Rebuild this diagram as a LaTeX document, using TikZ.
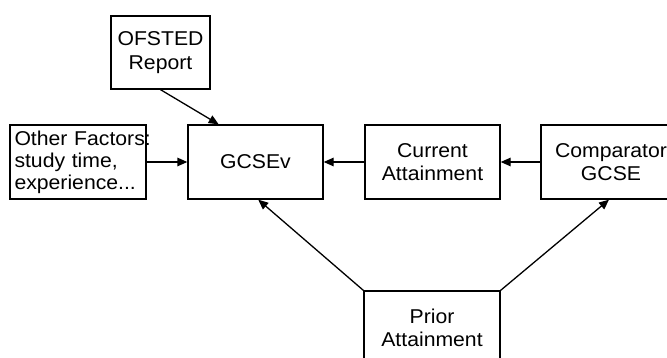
\documentclass[tikz,border=0pt]{standalone}
\usepackage{fontspec}
\setmainfont{Liberation Sans}[FakeStretch=1.06]
\usetikzlibrary{arrows.meta,calc}
\begin{document}
\begin{tikzpicture}[x=1pt,y=-1pt,
  box/.style={draw,line width=1.3pt,inner sep=0pt,align=center,
    font=\fontsize{20}{23.5}\selectfont},
  arr/.style={line width=1.3pt,-{Triangle[length=10pt,width=8.5pt]}}]
\useasboundingbox (0,0) rectangle (667,358);
\clip (0,0) rectangle (667,358);
\node[box,minimum width=99pt,minimum height=73pt] (ofsted) at (160.5,52.5) {OFSTED\\Report};
\node[box,minimum width=136pt,minimum height=74pt,text width=127pt,align=left,
  font=\fontsize{20}{22}\selectfont] (other) at (78,162)
  {\mbox{Other Factors:}\\study time,\\experience...};
\node[box,minimum width=135pt,minimum height=74pt] (gcsev) at (255.5,162) {GCSEv};
\node[box,minimum width=135pt,minimum height=74pt] (current) at (432.5,162) {Current\\Attainment};
\node[box,minimum width=140pt,minimum height=74pt] (comp) at (611,162) {Comparator\\GCSE};
\node[box,minimum width=136pt,minimum height=74pt] (prior) at (432,328) {Prior\\Attainment};
\draw[arr] (ofsted.south) -- ($(gcsev.north west)!0.23!(gcsev.north east)$);
\draw[arr] (other.east) -- (gcsev.west);
\draw[arr] (current.west) -- (gcsev.east);
\draw[arr] (comp.west) -- (current.east);
\draw[arr] (prior.north west) -- ($(gcsev.south west)!0.52!(gcsev.south east)$);
\draw[arr] (prior.north east) -- ($(comp.south west)!0.486!(comp.south east)$);
\end{tikzpicture}
\end{document}
